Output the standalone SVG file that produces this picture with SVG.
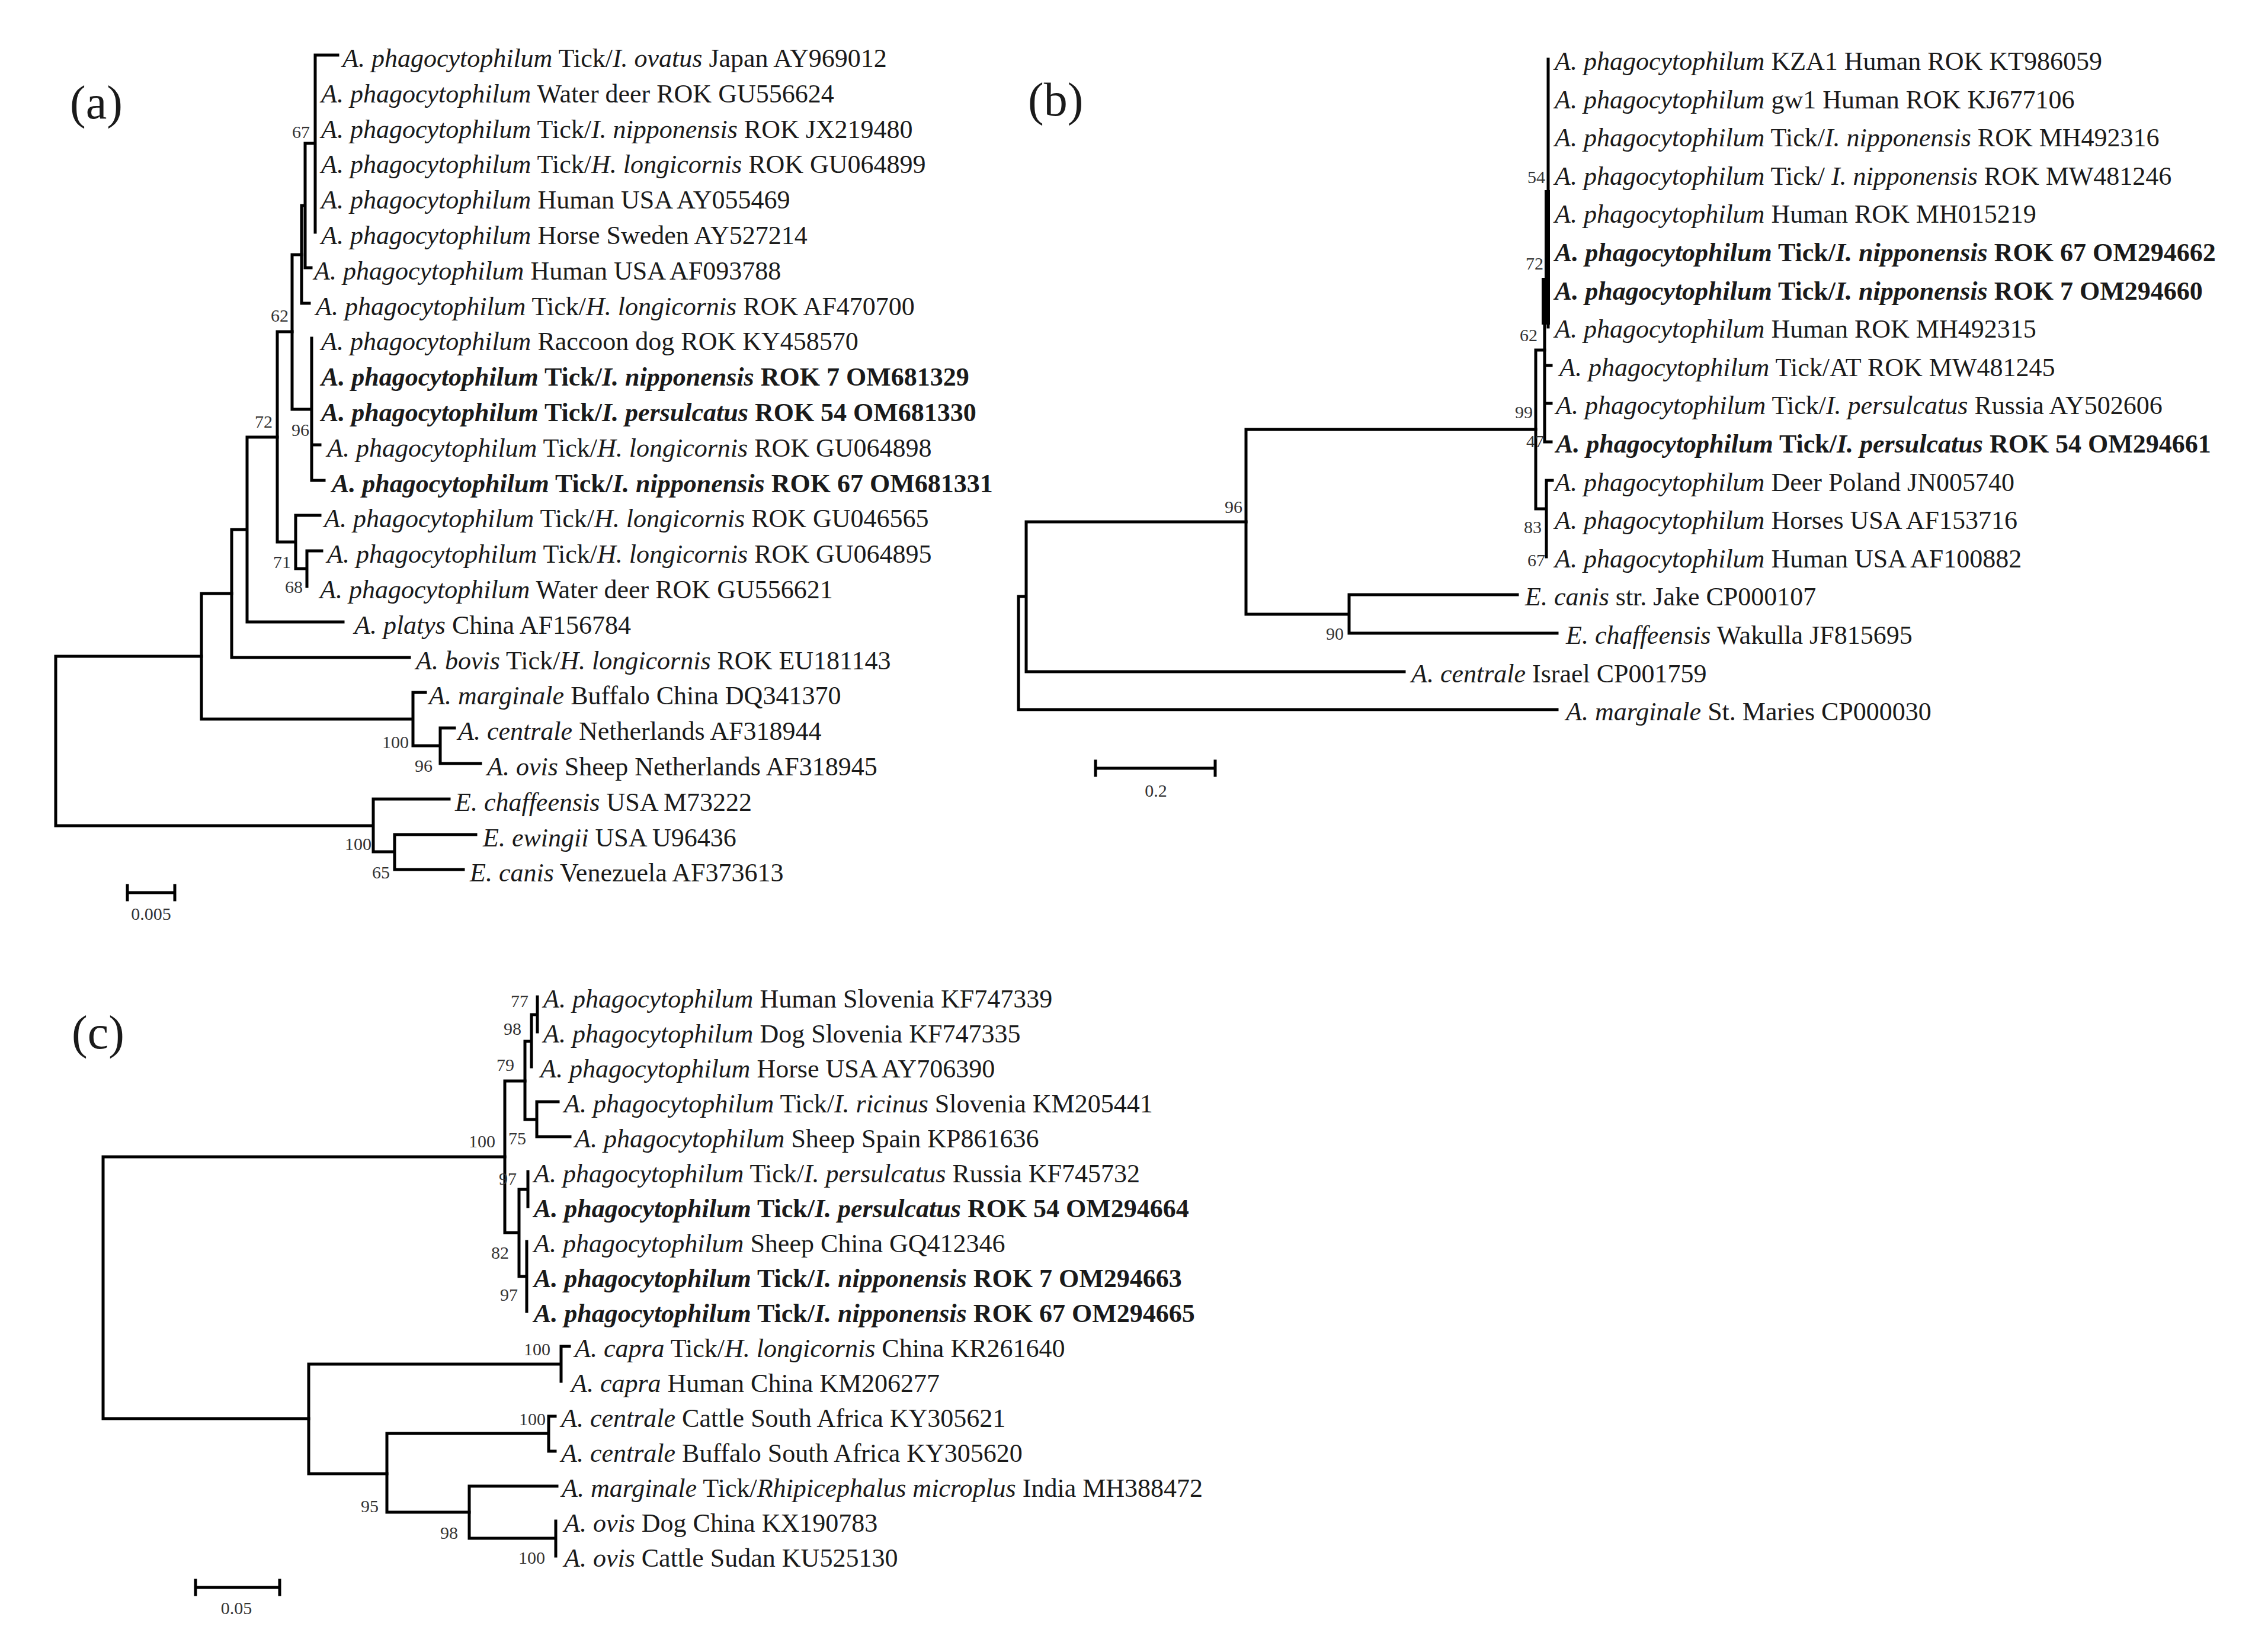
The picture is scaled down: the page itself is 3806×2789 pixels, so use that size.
<svg xmlns="http://www.w3.org/2000/svg" width="3806" height="2789" viewBox="0 0 3806 2789">
<style>
.t{font-family:"Liberation Serif","Times New Roman",serif;font-size:44px;fill:#1a1a1a}
.i{font-style:italic}
.b{font-weight:bold}
.bs{font-family:"Liberation Serif","Times New Roman",serif;font-size:30px;fill:#333;text-anchor:end}
.sc{font-family:"Liberation Serif","Times New Roman",serif;font-size:30px;fill:#333;text-anchor:middle}
.pl{font-family:"Liberation Serif","Times New Roman",serif;font-size:80px;fill:#1a1a1a}
.br{fill:none;stroke:#000;stroke-width:5;stroke-linecap:square}
</style>
<rect width="3806" height="2789" fill="#fff"/>

<!-- Panel (a) -->
<text class="pl" x="118" y="200">(a)</text>
<g id="edges-a" class="br">
<path d="M532 93V392M532 93H570M515 242V452M515 242H532M515 452H525M509 347V512M509 347H515M509 512H522"/>
<path d="M526 571V811M526 751H540M526 811H547M493 430V691M493 430H509M493 691H526"/>
<path d="M518 930V990M518 930H543M499 870V960M499 870H540M499 960H518M468 560V915M468 560H493M468 915H499"/>
<path d="M417 738V1050M417 738H468M417 1050H579M391 894V1110M391 894H417M391 1110H691"/>
<path d="M743 1229V1289M743 1229H767M743 1289H811M697 1169V1259M697 1169H718M697 1259H743M340 1002V1214M340 1002H391M340 1214H697"/>
<path d="M666 1409V1468M666 1409H803M666 1468H782M630 1349V1438M630 1349H758M630 1438H666M94 1108V1394M94 1108H340M94 1394H630"/>
<path d="M215 1507H295M215 1495V1519M295 1495V1519"/>
</g>
<g id="boot-a">
<text class="bs" x="523" y="233">67</text>
<text class="bs" x="487" y="543">62</text>
<text class="bs" x="460" y="722">72</text>
<text class="bs" x="522" y="736">96</text>
<text class="bs" x="491" y="959">71</text>
<text class="bs" x="511" y="1001">68</text>
<text class="bs" x="690" y="1263">100</text>
<text class="bs" x="730" y="1303">96</text>
<text class="bs" x="627" y="1435">100</text>
<text class="bs" x="658" y="1483">65</text>
<text class="sc" x="255" y="1553">0.005</text>
</g>
<g id="leaves-a" class="t">
<g id="a0"><text x="578" y="113"><tspan class="i">A. phagocytophilum</tspan> Tick/<tspan class="i">I. ovatus</tspan> Japan AY969012</text></g>
<g id="a1"><text x="542" y="173"><tspan class="i">A. phagocytophilum</tspan> Water deer ROK GU556624</text></g>
<g id="a2"><text x="542" y="233"><tspan class="i">A. phagocytophilum</tspan> Tick/<tspan class="i">I. nipponensis</tspan> ROK JX219480</text></g>
<g id="a3"><text x="542" y="292"><tspan class="i">A. phagocytophilum</tspan> Tick/<tspan class="i">H. longicornis</tspan> ROK GU064899</text></g>
<g id="a4"><text x="542" y="352"><tspan class="i">A. phagocytophilum</tspan> Human USA AY055469</text></g>
<g id="a5"><text x="542" y="412"><tspan class="i">A. phagocytophilum</tspan> Horse Sweden AY527214</text></g>
<g id="a6"><text x="530" y="472"><tspan class="i">A. phagocytophilum</tspan> Human USA AF093788</text></g>
<g id="a7"><text x="533" y="532"><tspan class="i">A. phagocytophilum</tspan> Tick/<tspan class="i">H. longicornis</tspan> ROK AF470700</text></g>
<g id="a8"><text x="542" y="591"><tspan class="i">A. phagocytophilum</tspan> Raccoon dog ROK KY458570</text></g>
<g id="a9"><text x="542" y="651" class="b"><tspan class="i">A. phagocytophilum</tspan> Tick/<tspan class="i">I. nipponensis</tspan> ROK 7 OM681329</text></g>
<g id="a10"><text x="542" y="711" class="b"><tspan class="i">A. phagocytophilum</tspan> Tick/<tspan class="i">I. persulcatus</tspan> ROK 54 OM681330</text></g>
<g id="a11"><text x="552" y="771"><tspan class="i">A. phagocytophilum</tspan> Tick/<tspan class="i">H. longicornis</tspan> ROK GU064898</text></g>
<g id="a12"><text x="560" y="831" class="b"><tspan class="i">A. phagocytophilum</tspan> Tick/<tspan class="i">I. nipponensis</tspan> ROK 67 OM681331</text></g>
<g id="a13"><text x="547" y="890"><tspan class="i">A. phagocytophilum</tspan> Tick/<tspan class="i">H. longicornis</tspan> ROK GU046565</text></g>
<g id="a14"><text x="552" y="950"><tspan class="i">A. phagocytophilum</tspan> Tick/<tspan class="i">H. longicornis</tspan> ROK GU064895</text></g>
<g id="a15"><text x="540" y="1010"><tspan class="i">A. phagocytophilum</tspan> Water deer ROK GU556621</text></g>
<g id="a16"><text x="598" y="1070"><tspan class="i">A. platys</tspan> China AF156784</text></g>
<g id="a17"><text x="702" y="1130"><tspan class="i">A. bovis</tspan> Tick/<tspan class="i">H. longicornis</tspan> ROK EU181143</text></g>
<g id="a18"><text x="724" y="1189"><tspan class="i">A. marginale</tspan> Buffalo China DQ341370</text></g>
<g id="a19"><text x="773" y="1249"><tspan class="i">A. centrale</tspan> Netherlands AF318944</text></g>
<g id="a20"><text x="822" y="1309"><tspan class="i">A. ovis</tspan> Sheep Netherlands AF318945</text></g>
<g id="a21"><text x="768" y="1369"><tspan class="i">E. chaffeensis</tspan> USA M73222</text></g>
<g id="a22"><text x="815" y="1429"><tspan class="i">E. ewingii</tspan> USA U96436</text></g>
<g id="a23"><text x="793" y="1488"><tspan class="i">E. canis</tspan> Venezuela AF373613</text></g>
</g>

<!-- Panel (b) -->
<text class="pl" x="1735" y="195">(b)</text>
<g id="edges-b" class="br">
<path d="M2613 100V552M2607 548V746M2607 617H2618M2607 681H2618M2607 746H2618"/>
<path d="M2592 591V859M2592 591H2607M2592 859H2610M2610 811V940M2610 811H2620"/>
<path d="M2277 1004V1069M2277 1004H2561M2277 1069H2628M2103 725V1037M2103 725H2592M2103 1037H2277"/>
<path d="M1732 881V1134M1732 881H2103M1732 1134H2370M1719 1007V1198M1719 1007H1732M1719 1198H2628"/>
<path d="M1849 1297H2051M1849 1285V1309M2051 1285V1309"/>
</g>
<rect x="2607" y="321" width="9" height="227" fill="#000"/>
<rect x="2602" y="469" width="14" height="79" fill="#000"/>
<g id="boot-b">
<text class="bs" x="2608" y="309">54</text>
<text class="bs" x="2605" y="455">72</text>
<text class="bs" x="2595" y="576">62</text>
<text class="bs" x="2587" y="706">99</text>
<text class="bs" x="2606" y="755">47</text>
<text class="bs" x="2602" y="900">83</text>
<text class="bs" x="2608" y="956">67</text>
<text class="bs" x="2097" y="866">96</text>
<text class="bs" x="2268" y="1080">90</text>
<text class="sc" x="1951" y="1345">0.2</text>
</g>
<g id="leaves-b" class="t">
<g id="b0"><text x="2624" y="118"><tspan class="i">A. phagocytophilum</tspan> KZA1 Human ROK KT986059</text></g>
<g id="b1"><text x="2624" y="183"><tspan class="i">A. phagocytophilum</tspan> gw1 Human ROK KJ677106</text></g>
<g id="b2"><text x="2624" y="247"><tspan class="i">A. phagocytophilum</tspan> Tick/<tspan class="i">I. nipponensis</tspan> ROK MH492316</text></g>
<g id="b3"><text x="2624" y="312"><tspan class="i">A. phagocytophilum</tspan> Tick/ <tspan class="i">I. nipponensis</tspan> ROK MW481246</text></g>
<g id="b4"><text x="2624" y="376"><tspan class="i">A. phagocytophilum</tspan> Human ROK MH015219</text></g>
<g id="b5"><text x="2624" y="441" class="b"><tspan class="i">A. phagocytophilum</tspan> Tick/<tspan class="i">I. nipponensis</tspan> ROK 67 OM294662</text></g>
<g id="b6"><text x="2624" y="506" class="b"><tspan class="i">A. phagocytophilum</tspan> Tick/<tspan class="i">I. nipponensis</tspan> ROK 7 OM294660</text></g>
<g id="b7"><text x="2624" y="570"><tspan class="i">A. phagocytophilum</tspan> Human ROK MH492315</text></g>
<g id="b8"><text x="2632" y="635"><tspan class="i">A. phagocytophilum</tspan> Tick/AT ROK MW481245</text></g>
<g id="b9"><text x="2626" y="699"><tspan class="i">A. phagocytophilum</tspan> Tick/<tspan class="i">I. persulcatus</tspan> Russia AY502606</text></g>
<g id="b10"><text x="2626" y="764" class="b"><tspan class="i">A. phagocytophilum</tspan> Tick/<tspan class="i">I. persulcatus</tspan> ROK 54 OM294661</text></g>
<g id="b11"><text x="2624" y="829"><tspan class="i">A. phagocytophilum</tspan> Deer Poland JN005740</text></g>
<g id="b12"><text x="2624" y="893"><tspan class="i">A. phagocytophilum</tspan> Horses USA AF153716</text></g>
<g id="b13"><text x="2624" y="958"><tspan class="i">A. phagocytophilum</tspan> Human USA AF100882</text></g>
<g id="b14"><text x="2574" y="1022"><tspan class="i">E. canis</tspan> str. Jake CP000107</text></g>
<g id="b15"><text x="2643" y="1087"><tspan class="i">E. chaffeensis</tspan> Wakulla JF815695</text></g>
<g id="b16"><text x="2382" y="1152"><tspan class="i">A. centrale</tspan> Israel CP001759</text></g>
<g id="b17"><text x="2643" y="1216"><tspan class="i">A. marginale</tspan> St. Maries CP000030</text></g>
</g>

<!-- Panel (c) -->
<text class="pl" x="121" y="1770">(c)</text>
<g id="edges-c" class="br">
<path d="M907 1683V1742M897 1713V1801M897 1713H907M906 1860V1919M906 1860H942M906 1919H962M886 1758V1890M886 1758H897M886 1890H906"/>
<path d="M891 1978V2037M889 2096V2214M876 2008V2155M876 2008H891M876 2155H889M852 1825V2081M852 1825H886M852 2081H876"/>
<path d="M174 1953V2395M174 1953H852M174 2395H521"/>
<path d="M947 2273V2332M947 2273H961M521 2303V2488M521 2303H947M521 2488H653"/>
<path d="M926 2391V2450M926 2391H937M926 2450H937M653 2420V2553M653 2420H926M653 2553H792"/>
<path d="M938 2568V2627M792 2509V2597M792 2509H940M792 2597H938"/>
<path d="M330 2680H472M330 2668V2692M472 2668V2692"/>
</g>
<g id="boot-c">
<text class="bs" x="892" y="1700">77</text>
<text class="bs" x="880" y="1747">98</text>
<text class="bs" x="868" y="1808">79</text>
<text class="bs" x="888" y="1932">75</text>
<text class="bs" x="836" y="1937">100</text>
<text class="bs" x="872" y="2000">97</text>
<text class="bs" x="859" y="2125">82</text>
<text class="bs" x="874" y="2196">97</text>
<text class="bs" x="929" y="2288">100</text>
<text class="bs" x="921" y="2406">100</text>
<text class="bs" x="639" y="2553">95</text>
<text class="bs" x="773" y="2598">98</text>
<text class="bs" x="920" y="2640">100</text>
<text class="sc" x="399" y="2725">0.05</text>
</g>
<g id="leaves-c" class="t">
<g id="c0"><text x="917" y="1701"><tspan class="i">A. phagocytophilum</tspan> Human Slovenia  KF747339</text></g>
<g id="c1"><text x="917" y="1760"><tspan class="i">A. phagocytophilum</tspan> Dog Slovenia  KF747335</text></g>
<g id="c2"><text x="912" y="1819"><tspan class="i">A. phagocytophilum</tspan> Horse USA AY706390</text></g>
<g id="c3"><text x="952" y="1878"><tspan class="i">A. phagocytophilum</tspan> Tick/<tspan class="i">I. ricinus</tspan> Slovenia KM205441</text></g>
<g id="c4"><text x="970" y="1937"><tspan class="i">A. phagocytophilum</tspan> Sheep Spain KP861636</text></g>
<g id="c5"><text x="901" y="1996"><tspan class="i">A. phagocytophilum</tspan> Tick/<tspan class="i">I. persulcatus</tspan> Russia KF745732</text></g>
<g id="c6"><text x="901" y="2055" class="b"><tspan class="i">A. phagocytophilum</tspan> Tick/<tspan class="i">I. persulcatus</tspan> ROK 54 OM294664</text></g>
<g id="c7"><text x="901" y="2114"><tspan class="i">A. phagocytophilum</tspan> Sheep China GQ412346</text></g>
<g id="c8"><text x="901" y="2173" class="b"><tspan class="i">A. phagocytophilum</tspan> Tick/<tspan class="i">I. nipponensis</tspan> ROK 7 OM294663</text></g>
<g id="c9"><text x="901" y="2232" class="b"><tspan class="i">A. phagocytophilum</tspan> Tick/<tspan class="i">I. nipponensis</tspan> ROK 67 OM294665</text></g>
<g id="c10"><text x="970" y="2291"><tspan class="i">A. capra</tspan> Tick/<tspan class="i">H. longicornis</tspan> China KR261640</text></g>
<g id="c11"><text x="964" y="2350"><tspan class="i">A. capra</tspan> Human China KM206277</text></g>
<g id="c12"><text x="947" y="2409"><tspan class="i">A. centrale</tspan> Cattle South Africa KY305621</text></g>
<g id="c13"><text x="947" y="2468"><tspan class="i">A. centrale</tspan> Buffalo South Africa KY305620</text></g>
<g id="c14"><text x="948" y="2527"><tspan class="i">A. marginale</tspan> Tick/<tspan class="i">Rhipicephalus microplus</tspan> India MH388472</text></g>
<g id="c15"><text x="952" y="2586"><tspan class="i">A. ovis</tspan> Dog China KX190783</text></g>
<g id="c16"><text x="952" y="2645"><tspan class="i">A. ovis</tspan> Cattle Sudan KU525130</text></g>
</g>
</svg>
